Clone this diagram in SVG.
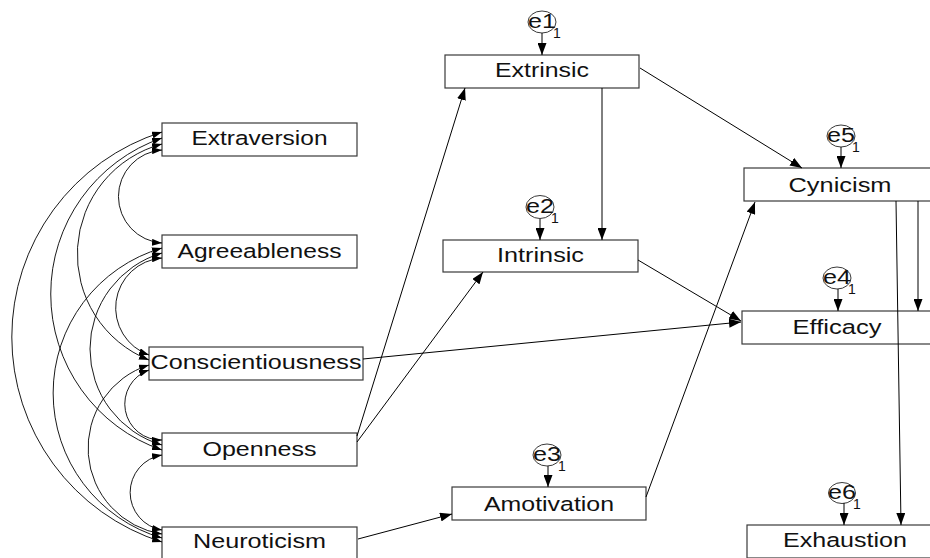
<svg xmlns="http://www.w3.org/2000/svg" width="930" height="558" viewBox="0 0 930 558">
<style>
.box{fill:#fff;stroke:#3a3a3a;stroke-width:1.2}
.lbl{font-family:"Liberation Sans",Arial,sans-serif;font-size:20.5px;fill:#111;text-anchor:middle}
.err{fill:#fff;stroke:#3a3a3a;stroke-width:1}
.elbl{font-family:"Liberation Sans",Arial,sans-serif;font-size:20px;fill:#111;text-anchor:middle}
.one{font-family:"Liberation Sans",Arial,sans-serif;font-size:14px;fill:#111;text-anchor:middle}
.path{fill:none;stroke:#000;stroke-width:1;marker-end:url(#arrow)}
.cov{fill:none;stroke:#000;stroke-width:0.9;marker-start:url(#covh);marker-end:url(#covh)}
</style>
<defs>
<marker id="arrow" markerUnits="userSpaceOnUse" markerWidth="12" markerHeight="9" refX="12" refY="4.5" orient="auto"><path d="M0,0 L12,4.5 L0,9 z" fill="#000"/></marker>
<marker id="covh" markerUnits="userSpaceOnUse" markerWidth="10" markerHeight="7" refX="10" refY="3.5" orient="auto-start-reverse"><path d="M0,0 L10,3.5 L0,7 z" fill="#000"/></marker>
</defs>
<rect width="930" height="558" fill="#fff"/>
<g id="extraversion"><rect class="box" x="162" y="123" width="195" height="33"/><text class="lbl" x="259.5" y="145" textLength="136" lengthAdjust="spacingAndGlyphs">Extraversion</text></g>
<g id="agreeableness"><rect class="box" x="162" y="235" width="195" height="33"/><text class="lbl" x="259.5" y="258" textLength="164" lengthAdjust="spacingAndGlyphs">Agreeableness</text></g>
<g id="conscientiousness"><rect class="box" x="149" y="347" width="214" height="33"/><text class="lbl" x="256" y="369" textLength="211" lengthAdjust="spacingAndGlyphs">Conscientiousness</text></g>
<g id="openness"><rect class="box" x="162" y="433" width="195" height="33"/><text class="lbl" x="259.5" y="456" textLength="114" lengthAdjust="spacingAndGlyphs">Openness</text></g>
<g id="neuroticism"><rect class="box" x="162" y="527" width="195" height="40"/><text class="lbl" x="259.5" y="548" textLength="133" lengthAdjust="spacingAndGlyphs">Neuroticism</text></g>
<g id="extrinsic"><rect class="box" x="445" y="55" width="194" height="33"/><text class="lbl" x="542" y="77" textLength="94" lengthAdjust="spacingAndGlyphs">Extrinsic</text></g>
<g id="intrinsic"><rect class="box" x="443" y="240" width="195" height="32"/><text class="lbl" x="540.5" y="262" textLength="87" lengthAdjust="spacingAndGlyphs">Intrinsic</text></g>
<g id="amotivation"><rect class="box" x="452" y="487" width="194" height="33"/><text class="lbl" x="549" y="511" textLength="130" lengthAdjust="spacingAndGlyphs">Amotivation</text></g>
<g id="cynicism"><rect class="box" x="744" y="168" width="194" height="33"/><text class="lbl" x="840" y="192" textLength="103" lengthAdjust="spacingAndGlyphs">Cynicism</text></g>
<g id="efficacy"><rect class="box" x="742" y="311" width="194" height="33"/><text class="lbl" x="837" y="334" textLength="89" lengthAdjust="spacingAndGlyphs">Efficacy</text></g>
<g id="exhaustion"><rect class="box" x="747" y="525" width="194" height="33"/><text class="lbl" x="845" y="547" textLength="124" lengthAdjust="spacingAndGlyphs">Exhaustion</text></g>
<g id="e1"><ellipse class="err" cx="542" cy="22" rx="14" ry="11"/><text class="elbl" x="542" y="28" textLength="28" lengthAdjust="spacingAndGlyphs">e1</text><text class="one" x="557" y="38">1</text></g>
<g id="e2"><ellipse class="err" cx="540" cy="207" rx="14" ry="11.5"/><text class="elbl" x="540" y="213" textLength="28" lengthAdjust="spacingAndGlyphs">e2</text><text class="one" x="555" y="223">1</text></g>
<g id="e3"><ellipse class="err" cx="547" cy="455" rx="14" ry="11"/><text class="elbl" x="547" y="461" textLength="28" lengthAdjust="spacingAndGlyphs">e3</text><text class="one" x="562" y="471">1</text></g>
<g id="e4"><ellipse class="err" cx="837" cy="278" rx="14" ry="11"/><text class="elbl" x="837" y="284" textLength="28" lengthAdjust="spacingAndGlyphs">e4</text><text class="one" x="852" y="294">1</text></g>
<g id="e5"><ellipse class="err" cx="841" cy="136" rx="14" ry="11"/><text class="elbl" x="841" y="142" textLength="28" lengthAdjust="spacingAndGlyphs">e5</text><text class="one" x="856" y="152">1</text></g>
<g id="e6"><ellipse class="err" cx="842" cy="493" rx="13.5" ry="10.5"/><text class="elbl" x="842" y="499" textLength="28" lengthAdjust="spacingAndGlyphs">e6</text><text class="one" x="857" y="509">1</text></g>
<g id="connectors">
<path class="cov" d="M162,132 A215,215 0 0 0 162,542"/>
<path class="cov" d="M162,138 A165,165 0 0 0 162,450"/>
<path class="cov" d="M162,144 A114,114 0 0 0 149,360"/>
<path class="cov" d="M162,150 A46.6,46.6 0 0 0 162,243"/>
<path class="cov" d="M162,248 A151,151 0 0 0 162,538"/>
<path class="cov" d="M162,253 A100,100 0 0 0 162,445"/>
<path class="cov" d="M162,258 A50,50 0 0 0 149,355"/>
<path class="cov" d="M149,365 A87,87 0 0 0 162,534"/>
<path class="cov" d="M149,370 A36,36 0 0 0 162,440"/>
<path class="cov" d="M162,455 A38,38 0 0 0 162,530"/>
<path class="path" d="M357,436 L465,88"/>
<path class="path" d="M357,442 L483,272"/>
<path class="path" d="M363,359 L741,322"/>
<path class="path" d="M638,260 L741,321"/>
<path class="path" d="M602,88 L602,240"/>
<path class="path" d="M640,68 L802,168"/>
<path class="path" d="M646,497 L755,202"/>
<path class="path" d="M358,539 L452,514"/>
<path class="path" d="M918,201 L918,311"/>
<path class="path" d="M896,201 L901,525"/>
<path class="path" d="M542,33 L542,55"/>
<path class="path" d="M540,219 L540,240"/>
<path class="path" d="M548,466 L548,487"/>
<path class="path" d="M838,289 L838,311"/>
<path class="path" d="M841,147 L841,168"/>
<path class="path" d="M844,503 L844,525"/>
</g>
</svg>
